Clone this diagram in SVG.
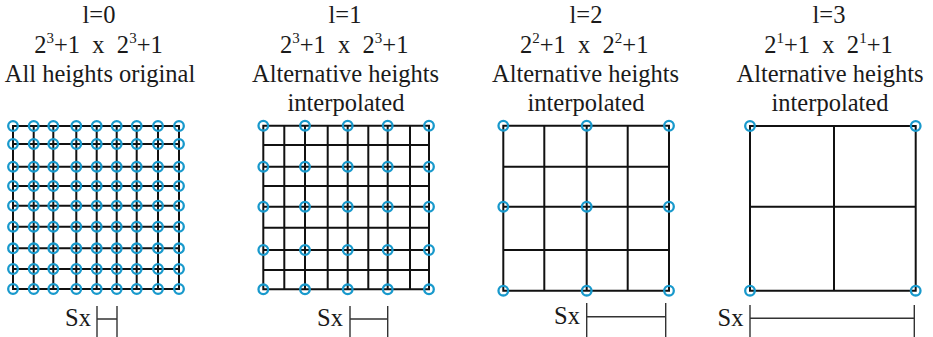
<svg xmlns="http://www.w3.org/2000/svg" width="933" height="337" viewBox="0 0 933 337">
<style>
text{font-family:"Liberation Serif","Times New Roman",serif;font-size:24.5px;fill:#1a1a1a}
.t{text-anchor:middle}
.sx{text-anchor:end}
.sup{font-size:15px}
.g{stroke:#111;stroke-width:2;fill:none;stroke-linecap:square}
.b{stroke:#333;stroke-width:1.4;fill:none}
.c{stroke:#1899cc;stroke-width:2.3;fill:none}
</style>
<defs>
<circle id="o" r="4.8" class="c"/>
</defs>
<rect width="933" height="337" fill="#fff"/>

<g id="panel-l0">
<text class="t" x="99" y="23">l=0</text>
<text class="t" x="98.5" y="53" xml:space="preserve">2<tspan class="sup" dy="-10">3</tspan><tspan dy="10">+1  x  2</tspan><tspan class="sup" dy="-10">3</tspan><tspan dy="10">+1</tspan></text>
<text class="t" x="100" y="82">All heights original</text>
<path class="g" d="M13,126H179M13,144H179M13,166.7H179M13,186H179M13,205.7H179M13,226.7H179M13,248.3H179M13,269H179M13,289H179M13,126V289M33.7,126V289M53.3,126V289M76.3,126V289M96.7,126V289M116.7,126V289M136.7,126V289M158,126V289M179,126V289"/>
<g>
<use href="#o" x="13" y="126"/><use href="#o" x="33.7" y="126"/><use href="#o" x="53.3" y="126"/><use href="#o" x="76.3" y="126"/><use href="#o" x="96.7" y="126"/><use href="#o" x="116.7" y="126"/><use href="#o" x="136.7" y="126"/><use href="#o" x="158" y="126"/><use href="#o" x="179" y="126"/>
<use href="#o" x="13" y="144"/><use href="#o" x="33.7" y="144"/><use href="#o" x="53.3" y="144"/><use href="#o" x="76.3" y="144"/><use href="#o" x="96.7" y="144"/><use href="#o" x="116.7" y="144"/><use href="#o" x="136.7" y="144"/><use href="#o" x="158" y="144"/><use href="#o" x="179" y="144"/>
<use href="#o" x="13" y="166.7"/><use href="#o" x="33.7" y="166.7"/><use href="#o" x="53.3" y="166.7"/><use href="#o" x="76.3" y="166.7"/><use href="#o" x="96.7" y="166.7"/><use href="#o" x="116.7" y="166.7"/><use href="#o" x="136.7" y="166.7"/><use href="#o" x="158" y="166.7"/><use href="#o" x="179" y="166.7"/>
<use href="#o" x="13" y="186"/><use href="#o" x="33.7" y="186"/><use href="#o" x="53.3" y="186"/><use href="#o" x="76.3" y="186"/><use href="#o" x="96.7" y="186"/><use href="#o" x="116.7" y="186"/><use href="#o" x="136.7" y="186"/><use href="#o" x="158" y="186"/><use href="#o" x="179" y="186"/>
<use href="#o" x="13" y="205.7"/><use href="#o" x="33.7" y="205.7"/><use href="#o" x="53.3" y="205.7"/><use href="#o" x="76.3" y="205.7"/><use href="#o" x="96.7" y="205.7"/><use href="#o" x="116.7" y="205.7"/><use href="#o" x="136.7" y="205.7"/><use href="#o" x="158" y="205.7"/><use href="#o" x="179" y="205.7"/>
<use href="#o" x="13" y="226.7"/><use href="#o" x="33.7" y="226.7"/><use href="#o" x="53.3" y="226.7"/><use href="#o" x="76.3" y="226.7"/><use href="#o" x="96.7" y="226.7"/><use href="#o" x="116.7" y="226.7"/><use href="#o" x="136.7" y="226.7"/><use href="#o" x="158" y="226.7"/><use href="#o" x="179" y="226.7"/>
<use href="#o" x="13" y="248.3"/><use href="#o" x="33.7" y="248.3"/><use href="#o" x="53.3" y="248.3"/><use href="#o" x="76.3" y="248.3"/><use href="#o" x="96.7" y="248.3"/><use href="#o" x="116.7" y="248.3"/><use href="#o" x="136.7" y="248.3"/><use href="#o" x="158" y="248.3"/><use href="#o" x="179" y="248.3"/>
<use href="#o" x="13" y="269"/><use href="#o" x="33.7" y="269"/><use href="#o" x="53.3" y="269"/><use href="#o" x="76.3" y="269"/><use href="#o" x="96.7" y="269"/><use href="#o" x="116.7" y="269"/><use href="#o" x="136.7" y="269"/><use href="#o" x="158" y="269"/><use href="#o" x="179" y="269"/>
<use href="#o" x="13" y="289"/><use href="#o" x="33.7" y="289"/><use href="#o" x="53.3" y="289"/><use href="#o" x="76.3" y="289"/><use href="#o" x="96.7" y="289"/><use href="#o" x="116.7" y="289"/><use href="#o" x="136.7" y="289"/><use href="#o" x="158" y="289"/><use href="#o" x="179" y="289"/>
</g>
<text class="sx" x="91" y="326">Sx</text>
<path class="b" d="M97,306V337M117,306V337M97,319H117"/>
</g>

<g id="panel-l1">
<text class="t" x="345" y="23">l=1</text>
<text class="t" x="344.2" y="53" xml:space="preserve">2<tspan class="sup" dy="-10">3</tspan><tspan dy="10">+1  x  2</tspan><tspan class="sup" dy="-10">3</tspan><tspan dy="10">+1</tspan></text>
<text class="t" x="345.5" y="82">Alternative heights</text>
<text class="t" x="346" y="110.5">interpolated</text>
<path class="g" d="M263.3,125.7H429M263.3,145H429M263.3,166.7H429M263.3,186H429M263.3,206.7H429M263.3,227.7H429M263.3,250H429M263.3,270H429M263.3,289.3H429M263.3,125.7V289.3M284.3,125.7V289.3M305,125.7V289.3M327.7,125.7V289.3M347.7,125.7V289.3M368.3,125.7V289.3M387.7,125.7V289.3M410,125.7V289.3M429,125.7V289.3"/>
<g>
<use href="#o" x="263.3" y="125.7"/><use href="#o" x="305" y="125.7"/><use href="#o" x="347.7" y="125.7"/><use href="#o" x="387.7" y="125.7"/><use href="#o" x="429" y="125.7"/>
<use href="#o" x="263.3" y="166.7"/><use href="#o" x="305" y="166.7"/><use href="#o" x="347.7" y="166.7"/><use href="#o" x="387.7" y="166.7"/><use href="#o" x="429" y="166.7"/>
<use href="#o" x="263.3" y="206.7"/><use href="#o" x="305" y="206.7"/><use href="#o" x="347.7" y="206.7"/><use href="#o" x="387.7" y="206.7"/><use href="#o" x="429" y="206.7"/>
<use href="#o" x="263.3" y="250"/><use href="#o" x="305" y="250"/><use href="#o" x="347.7" y="250"/><use href="#o" x="387.7" y="250"/><use href="#o" x="429" y="250"/>
<use href="#o" x="263.3" y="289.3"/><use href="#o" x="305" y="289.3"/><use href="#o" x="347.7" y="289.3"/><use href="#o" x="387.7" y="289.3"/><use href="#o" x="429" y="289.3"/>
</g>
<text class="sx" x="343" y="326">Sx</text>
<path class="b" d="M350,306V337M387.7,306V337M350,319H387.7"/>
</g>

<g id="panel-l2">
<text class="t" x="586" y="23">l=2</text>
<text class="t" x="584.2" y="53" xml:space="preserve">2<tspan class="sup" dy="-10">2</tspan><tspan dy="10">+1  x  2</tspan><tspan class="sup" dy="-10">2</tspan><tspan dy="10">+1</tspan></text>
<text class="t" x="585.5" y="82">Alternative heights</text>
<text class="t" x="586" y="110.5">interpolated</text>
<path class="g" d="M503.3,125.7H669M503.3,166.7H669M503.3,206.7H669M503.3,250H669M503.3,290.7H669M503.3,125.7V290.7M544.3,125.7V290.7M586.7,125.7V290.7M627.7,125.7V290.7M669,125.7V290.7"/>
<g>
<use href="#o" x="503.3" y="125.7"/><use href="#o" x="586.7" y="125.7"/><use href="#o" x="669" y="125.7"/>
<use href="#o" x="503.3" y="206.7"/><use href="#o" x="586.7" y="206.7"/><use href="#o" x="669" y="206.7"/>
<use href="#o" x="503.3" y="290.7"/><use href="#o" x="586.7" y="290.7"/><use href="#o" x="669" y="290.7"/>
</g>
<text class="sx" x="580" y="323.5">Sx</text>
<path class="b" d="M586.7,303V337M665.7,303V337M586.7,316.7H665.7"/>
</g>

<g id="panel-l3">
<text class="t" x="829" y="23">l=3</text>
<text class="t" x="828.5" y="53" xml:space="preserve">2<tspan class="sup" dy="-10">1</tspan><tspan dy="10">+1  x  2</tspan><tspan class="sup" dy="-10">1</tspan><tspan dy="10">+1</tspan></text>
<text class="t" x="830" y="82">Alternative heights</text>
<text class="t" x="830" y="110.5">interpolated</text>
<path class="g" d="M750,126H915.7M750,206.7H915.7M750,290.7H915.7M750,126V290.7M834,126V290.7M915.7,126V290.7"/>
<g>
<use href="#o" x="750" y="126"/><use href="#o" x="915.7" y="126"/>
<use href="#o" x="750" y="290.7"/><use href="#o" x="915.7" y="290.7"/>
</g>
<text class="sx" x="743.5" y="326">Sx</text>
<path class="b" d="M750,305V337M914.3,305V337M750,318.3H914.3"/>
</g>

<g id="connectors"/>
</svg>
